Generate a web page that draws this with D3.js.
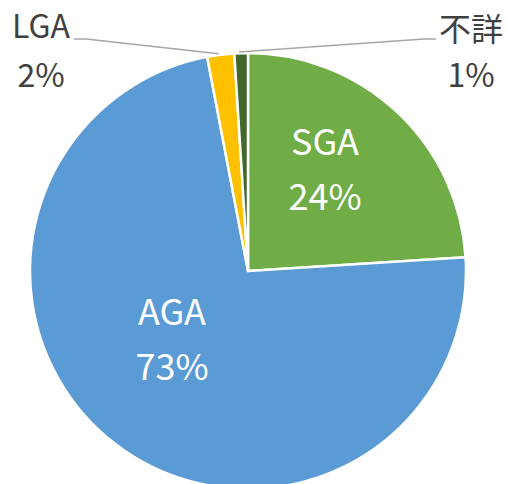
<!DOCTYPE html>
<html>
<head>
<meta charset="utf-8">
<script src="https://cdn.jsdelivr.net/npm/d3@7"></script>
<style>
  body { margin: 0; background: #fff; }
  svg { display: block; }
</style>
</head>
<body>
<div class="container"></div>
<script>
// data
var categories = ["SGA", "AGA", "LGA", "不詳"];
var values = [24, 73, 2, 1];
var colors = ["#70AD47", "#5B9BD5", "#FFC000", "#43682B"];
var pctLabels = ["24%", "73%", "2%", "1%"];

var W = 507, H = 484;
var cx = 248, cy = 271, r = 218;

var svg = d3.select(".container").append("svg")
    .attr("width", W).attr("height", H);

var pie = d3.pie().sort(null).value(function(d) { return d; });
var arcs = pie(values);
var arc = d3.arc().innerRadius(0).outerRadius(r);

var g = svg.append("g").attr("transform", "translate(" + cx + "," + cy + ")");

g.selectAll("path")
  .data(arcs)
  .enter().append("path")
  .attr("d", arc)
  .attr("fill", function(d, i) { return colors[i]; })
  .attr("stroke", "#fff")
  .attr("stroke-width", 2.5)
  .attr("stroke-linejoin", "round");

// leader lines for the small slices
var edge = d3.arc().innerRadius(r + 1).outerRadius(r + 1);
function leader(i, x1, x2) {
    var c = edge.centroid(arcs[i]);
    var y = 39 - cy;
    g.append("polyline")
      .attr("points", [[c[0] - 2, c[1]], [x1 - cx, y], [x2 - cx, y]].map(function(p) { return p.join(","); }).join(" "))
      .attr("fill", "none")
      .attr("stroke", "#A6A6A6")
      .attr("stroke-width", 1.5);
}
leader(2, 86, 74);
leader(3, 424, 436);

// labels: x, y, colour, size, line step
var labelPos = [[325, 155, "#fff", 36, 55], [172, 325, "#fff", 36, 55],
                [41, 38, "#404040", 32, 49], [471, 41, "#404040", 32, 46]];
var font = "'Noto Sans CJK JP', 'Noto Sans', sans-serif";

categories.forEach(function(name, i) {
    var p = labelPos[i];
    var t = svg.append("text")
      .attr("x", p[0]).attr("y", p[1])
      .attr("font-family", font)
      .attr("font-size", p[3])
      .attr("text-anchor", "middle")
      .attr("fill", p[2]);
    t.append("tspan").attr("x", p[0]).text(name);
    t.append("tspan").attr("x", p[0]).attr("dy", p[4]).text(pctLabels[i]);
});
</script>
</body>
</html>
